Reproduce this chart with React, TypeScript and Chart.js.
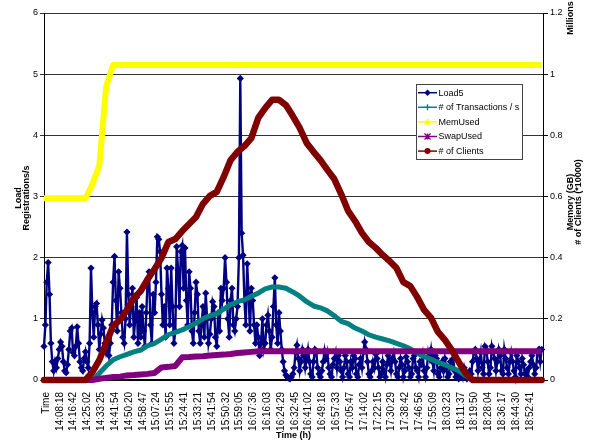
import { useEffect, useRef } from 'react';
import { Chart, registerables } from 'chart.js';

Chart.register(...registerables);

const FONT = "'Liberation Sans', Arial, sans-serif";

// Category (tick) labels: one every ~8 min of samples
const timeLabels = ['Time', '14:08:18', '14:16:42', '14:25:02', '14:33:25', '14:41:54', '14:50:20', '14:58:47', '15:07:24', '15:15:55', '15:24:41', '15:33:21', '15:41:54', '15:50:32', '15:59:05', '16:07:36', '16:16:03', '16:24:29', '16:32:45', '16:41:02', '16:49:18', '16:57:33', '17:05:47', '17:14:02', '17:22:15', '17:30:29', '17:38:42', '17:46:56', '17:55:09', '18:03:23', '18:11:37', '18:19:50', '18:28:04', '18:36:17', '18:44:30', '18:52:41'];
const leftTicks = ['0', '1', '2', '3', '4', '5', '6'];
const rightTicks = ['0', '0.2', '0.4', '0.6', '0.8', '1', '1.2'];
const seriesNames = ['Load5', '# of Transactions / s', 'MemUsed', 'SwapUsed', '# of Clients'];
const xTitle = 'Time (h)';
const leftTitle = ['Load', 'Registrations/s'];
const rightTitle = ['Memory (GB)', '# of Clients (*10000)'];
const unitLabel = 'Millions';

// sample spacing, in label intervals
const X_MIN = -0.15;
const X_MAX = 35.95;
const LOAD_STEP = 0.1;
const SLOW_STEP = 0.5;

// Load5 (left axis), 10 samples per label interval
const load5 = [
  0.55, 0.9, 1.6, 1.92, 1.4, 0.6, 0.3, 0.15, 0.3, 0.2,
  0.35, 0.5, 0.62, 0.55, 0.3, 0.15, 0.12, 0.25, 0.5, 0.8,
  0.85, 0.45, 0.4, 0.55, 0.87, 0.6, 0.3, 0.2, 0.15, 0.35,
  0.46, 0.3, 0.2, 0.6, 1.83, 1.1, 0.7, 1.2, 1.25, 0.9,
  0.5, 0.75, 0.98, 0.85, 0.6, 0.45, 0.55, 0.4, 0.6, 0.9,
  1.6, 2.02, 1.3, 0.8, 1.77, 1.5, 1.1, 0.7, 0.6, 1.0,
  2.42, 1.4, 0.9, 1.2, 1.5, 0.7, 1.0, 1.35, 0.6, 1.1,
  0.7, 1.2, 0.8, 0.55, 1.1, 1.64, 1.77, 0.9, 0.6, 1.4,
  1.1, 1.6, 2.34, 2.3, 2.1, 1.4, 0.9, 1.2, 0.7, 1.83,
  1.5, 0.9, 1.83, 1.2, 0.6, 0.8, 2.18, 1.8, 1.2, 2.1,
  2.2, 1.5, 2.16, 1.3, 0.9, 1.77, 1.5, 0.8, 0.6, 1.1,
  1.6, 1.4, 0.8, 0.6, 0.9, 1.2, 0.7, 1.42, 1.0, 0.6,
  0.75, 1.0, 1.28, 1.2, 0.7, 0.55, 1.1, 0.8, 1.5, 1.3,
  1.5, 2.0, 1.6, 1.0, 0.7, 1.3, 1.5, 0.9, 0.8, 1.0,
  1.2, 2.0, 4.93, 2.4, 2.04, 1.3, 0.9, 1.9, 1.4, 0.8,
  1.5, 1.3, 0.9, 0.6, 0.9, 0.7, 0.4, 0.6, 1.0, 0.5,
  0.6, 0.9, 1.06, 0.8, 0.5, 0.7, 1.2, 1.67, 0.9, 0.6,
  1.1, 0.8, 0.5, 0.3, 0.15, 0.08, 0.05, 0.03, 0.02, 0.05,
  0.1, 0.2, 0.45, 0.57, 0.35, 0.15, 0.3, 0.5, 0.4, 0.2,
  0.35, 0.5, 0.3, 0.1, 0.05, 0.3, 0.5, 0.45, 0.2, 0.1,
  0.05, 0.15, 0.3, 0.48, 0.35, 0.45, 0.2, 0.1, 0.05, 0.25,
  0.35, 0.45, 0.2, 0.4, 0.3, 0.15, 0.05, 0.2, 0.4, 0.3,
  0.1, 0.05, 0.3, 0.2, 0.4, 0.35, 0.1, 0.05, 0.25, 0.35,
  0.2, 0.45, 0.62, 0.5, 0.3, 0.1, 0.05, 0.15, 0.3, 0.2,
  0.42, 0.35, 0.2, 0.05, 0.1, 0.3, 0.15, 0.05, 0.25, 0.4,
  0.3, 0.15, 0.35, 0.45, 0.3, 0.1, 0.05, 0.2, 0.35, 0.25,
  0.05, 0.15, 0.38, 0.3, 0.2, 0.05, 0.1, 0.35, 0.4, 0.2,
  0.15, 0.05, 0.3, 0.25, 0.4, 0.15, 0.05, 0.2, 0.45, 0.35,
  0.5, 0.3, 0.15, 0.4, 0.35, 0.1, 0.05, 0.2, 0.3, 0.15,
  0.35, 0.2, 0.05, 0.1, 0.3, 0.25, 0.35, 0.15, 0.05, 0.1,
  0.02, 0.05, 0.15, 0.05, 0.2, 0.1, 0.02, 0.05, 0.15, 0.1,
  0.3, 0.45, 0.5, 0.35, 0.15, 0.3, 0.45, 0.2, 0.1, 0.55,
  0.5, 0.3, 0.1, 0.2, 0.55, 0.45, 0.35, 0.15, 0.3, 0.5,
  0.4, 0.15, 0.1, 0.5, 0.35, 0.2, 0.1, 0.3, 0.45, 0.3,
  0.15, 0.05, 0.4, 0.3, 0.2, 0.1, 0.35, 0.25, 0.1, 0.15,
  0.05, 0.2, 0.3, 0.4, 0.25, 0.1, 0.2, 0.45, 0.5, 0.3,
  0.5,
];

// # of Transactions / s (left axis)
const transactions = [
  0, 0, 0, 0, 0, 0, 0, 0, 0.11, 0.23,
  0.33, 0.38, 0.42, 0.46, 0.49, 0.56, 0.6, 0.67, 0.74, 0.78,
  0.82, 0.87, 0.93, 1.0, 1.05, 1.08, 1.16, 1.23, 1.28, 1.31,
  1.37, 1.42, 1.49, 1.52, 1.52, 1.5, 1.44, 1.37, 1.28, 1.21,
  1.18, 1.13, 1.05, 0.96, 0.92, 0.85, 0.8, 0.74, 0.7, 0.67,
  0.64, 0.6, 0.56, 0.51, 0.44, 0.38, 0.34, 0.29, 0.25, 0.2,
  0.15, 0.07, 0, 0, 0, 0, 0, 0, 0, 0,
  0, 0, 0,
];

// MemUsed (right axis, millions)
const memUsed = [
  0.594, 0.594, 0.594, 0.594, 0.594, 0.594, 0.594, 0.64, 0.7, 0.96,
  1.03, 1.03, 1.03, 1.03, 1.03, 1.03, 1.03, 1.03, 1.03, 1.03,
  1.03, 1.03, 1.03, 1.03, 1.03, 1.03, 1.03, 1.03, 1.03, 1.03,
  1.03, 1.03, 1.03, 1.03, 1.03, 1.03, 1.03, 1.03, 1.03, 1.03,
  1.03, 1.03, 1.03, 1.03, 1.03, 1.03, 1.03, 1.03, 1.03, 1.03,
  1.03, 1.03, 1.03, 1.03, 1.03, 1.03, 1.03, 1.03, 1.03, 1.03,
  1.03, 1.03, 1.03, 1.03, 1.03, 1.03, 1.03, 1.03, 1.03, 1.03,
  1.03, 1.03, 1.03,
];

// SwapUsed (right axis)
const swapUsed = [
  0, 0, 0, 0, 0, 0, 0, 0, 0.004, 0.007,
  0.01, 0.011, 0.015, 0.016, 0.018, 0.02, 0.023, 0.041, 0.043, 0.046,
  0.074, 0.075, 0.077, 0.078, 0.08, 0.082, 0.083, 0.085, 0.088, 0.09,
  0.092, 0.094, 0.094, 0.094, 0.094, 0.094, 0.094, 0.094, 0.094, 0.094,
  0.094, 0.094, 0.094, 0.094, 0.094, 0.094, 0.094, 0.094, 0.094, 0.094,
  0.094, 0.094, 0.094, 0.094, 0.094, 0.094, 0.094, 0.094, 0.094, 0.094,
  0.094, 0.094, 0.094, 0.094, 0.094, 0.094, 0.094, 0.094, 0.094, 0.094,
  0.094, 0.094, 0.094,
];

// # of Clients (right axis)
const clients = [
  0, 0, 0, 0, 0, 0, 0, 0.026, 0.065, 0.121,
  0.177, 0.196, 0.229, 0.268, 0.291, 0.33, 0.363, 0.399, 0.451, 0.461,
  0.487, 0.51, 0.533, 0.576, 0.602, 0.615, 0.664, 0.719, 0.746, 0.765,
  0.791, 0.857, 0.889, 0.916, 0.916, 0.899, 0.863, 0.824, 0.775, 0.746,
  0.719, 0.687, 0.657, 0.608, 0.553, 0.52, 0.481, 0.451, 0.432, 0.409,
  0.389, 0.366, 0.32, 0.307, 0.271, 0.229, 0.203, 0.157, 0.131, 0.098,
  0.059, 0.023, 0, 0, 0, 0, 0, 0, 0, 0,
  0, 0, 0,
];

const toPoints = (vals: number[], step: number) => vals.map((v, i) => ({ x: X_MIN + i * step, y: v }));

const COLORS = ['#000080', '#008080', '#FFFF00', '#800080', '#800000'];
const MARKERS = ['diamond', 'plus', 'triangle', 'star', 'circle'];

function drawMarker(ctx: CanvasRenderingContext2D, kind: string, x: number, y: number, color: string) {
  ctx.save();
  ctx.fillStyle = color;
  ctx.strokeStyle = color;
  ctx.lineWidth = 1.3;
  ctx.beginPath();
  if (kind === 'diamond') {
    ctx.moveTo(x, y - 3.2); ctx.lineTo(x + 3.2, y); ctx.lineTo(x, y + 3.2); ctx.lineTo(x - 3.2, y); ctx.closePath(); ctx.fill();
  } else if (kind === 'plus') {
    ctx.moveTo(x - 3, y); ctx.lineTo(x + 3, y); ctx.moveTo(x, y - 3); ctx.lineTo(x, y + 3); ctx.stroke();
  } else if (kind === 'triangle') {
    ctx.moveTo(x, y - 3.5); ctx.lineTo(x + 3.5, y + 2.5); ctx.lineTo(x - 3.5, y + 2.5); ctx.closePath(); ctx.fill();
  } else if (kind === 'star') {
    ctx.moveTo(x - 3, y - 3); ctx.lineTo(x + 3, y + 3); ctx.moveTo(x + 3, y - 3); ctx.lineTo(x - 3, y + 3);
    ctx.moveTo(x, y - 3); ctx.lineTo(x, y + 3); ctx.stroke();
  } else {
    ctx.arc(x, y, 3, 0, Math.PI * 2); ctx.fill();
  }
  ctx.restore();
}

const decorPlugin = {
  id: 'decor',
  afterDraw(chart: any) {
    const ctx: CanvasRenderingContext2D = chart.ctx;
    const { left, right } = chart.chartArea;
    ctx.save();
    ctx.fillStyle = '#000';
    ctx.textAlign = 'center';
    ctx.textBaseline = 'middle';
    ctx.font = `bold 9px ${FONT}`;
    ctx.fillText(xTitle, (left + right) / 2, 436);

    ctx.save();
    ctx.translate(19, 198);
    ctx.rotate(-Math.PI / 2);
    ctx.fillText(leftTitle[0], 0, 0);
    ctx.fillText(leftTitle[1], 0, 8);
    ctx.restore();

    ctx.save();
    ctx.translate(571, 202);
    ctx.rotate(-Math.PI / 2);
    ctx.fillText(rightTitle[0], 0, 0);
    ctx.fillText(rightTitle[1], 0, 8);
    ctx.restore();

    ctx.save();
    ctx.translate(571, 18);
    ctx.rotate(-Math.PI / 2);
    ctx.fillText(unitLabel, 0, 0);
    ctx.restore();

    // legend
    const bx = 416, by = 84, bw = 106, bh = 75;
    ctx.fillStyle = '#fff';
    ctx.fillRect(bx, by, bw, bh);
    ctx.strokeStyle = '#444';
    ctx.lineWidth = 1;
    ctx.strokeRect(bx + 0.5, by + 0.5, bw, bh);
    ctx.font = `9px ${FONT}`;
    ctx.textAlign = 'left';
    seriesNames.forEach((name, k) => {
      const y = 92.7 + k * 14.6;
      ctx.strokeStyle = COLORS[k];
      ctx.lineWidth = 1.5;
      ctx.beginPath();
      ctx.moveTo(418, y);
      ctx.lineTo(437, y);
      ctx.stroke();
      drawMarker(ctx, MARKERS[k], 427.5, y, COLORS[k]);
      ctx.fillStyle = '#000';
      ctx.fillText(name, 438.5, y + 0.5);
    });
    ctx.restore();
  },
};

export default function App() {
  const ref = useRef<HTMLCanvasElement>(null);
  useEffect(() => {
    const chart = new Chart(ref.current as HTMLCanvasElement, {
      type: 'line',
      data: {
        datasets: [
          {
            label: seriesNames[4], data: toPoints(clients, SLOW_STEP), yAxisID: 'y1', order: 1,
            borderColor: COLORS[4], borderWidth: 6.5, pointRadius: 0, borderJoinStyle: 'round', borderCapStyle: 'round', clip: false,
          },
          {
            label: seriesNames[3], data: toPoints(swapUsed, SLOW_STEP), yAxisID: 'y1', order: 2,
            borderColor: COLORS[3], borderWidth: 6, pointRadius: 0, borderJoinStyle: 'round', clip: false,
          },
          {
            label: seriesNames[2], data: toPoints(memUsed, SLOW_STEP), yAxisID: 'y1', order: 3,
            borderColor: COLORS[2], borderWidth: 6, pointRadius: 0, borderJoinStyle: 'round', clip: false,
          },
          {
            label: seriesNames[1], data: toPoints(transactions, SLOW_STEP), yAxisID: 'y', order: 4,
            borderColor: COLORS[1], borderWidth: 5, pointRadius: 0, borderJoinStyle: 'round', clip: false,
          },
          {
            label: seriesNames[0], data: toPoints(load5, LOAD_STEP), yAxisID: 'y', order: 5,
            borderColor: COLORS[0], borderWidth: 2.4, pointStyle: 'rectRot', pointRadius: 3.6,
            pointBackgroundColor: COLORS[0], pointBorderColor: COLORS[0], pointBorderWidth: 0, clip: false,
          },
        ] as any,
      },
      options: {
        responsive: false,
        animation: false,
        devicePixelRatio: 1,
        events: [],
        layout: { padding: { top: 13, left: 0, right: 0, bottom: 0 } },
        plugins: { legend: { display: false }, tooltip: { enabled: false } },
        scales: {
          x: {
            type: 'linear', position: 'bottom', min: X_MIN, max: X_MAX,
            afterBuildTicks: (s: any) => { s.ticks = timeLabels.map((_, i) => ({ value: i })); },
            afterFit: (s: any) => { s.height = 62; },
            ticks: {
              autoSkip: false, maxRotation: 90, minRotation: 90, padding: 12,
              font: { family: FONT, size: 10 }, color: '#000',
              callback: (v: any) => timeLabels[v] ?? '',
            },
            grid: { display: false, drawTicks: false },
            border: { display: true, color: '#000', width: 2 },
          },
          y: {
            type: 'linear', position: 'left', min: 0, max: 6,
            afterFit: (s: any) => { s.width = 44; },
            ticks: {
              stepSize: 1, padding: 2, font: { family: FONT, size: 9 }, color: '#000',
              callback: (_v: any, i: number) => leftTicks[i],
            },
            grid: { color: '#333', lineWidth: 1, tickLength: 4 },
            border: { color: '#000', width: 1 },
          },
          y1: {
            type: 'linear', position: 'right', min: 0, max: 1.2,
            afterFit: (s: any) => { s.width = 50; },
            ticks: {
              stepSize: 0.2, padding: 2, font: { family: FONT, size: 9 }, color: '#000',
              callback: (_v: any, i: number) => rightTicks[i],
            },
            grid: { drawOnChartArea: false, color: '#000', tickLength: 5 },
            border: { color: '#000', width: 1 },
          },
        },
      } as any,
      plugins: [decorPlugin],
    });
    return () => chart.destroy();
  }, []);
  return (
    <div style={{ position: 'absolute', left: 0, top: 0, width: 593, height: 442, background: '#fff' }}>
      <canvas ref={ref} width={593} height={442} style={{ display: 'block', width: 593, height: 442 }} />
    </div>
  );
}
